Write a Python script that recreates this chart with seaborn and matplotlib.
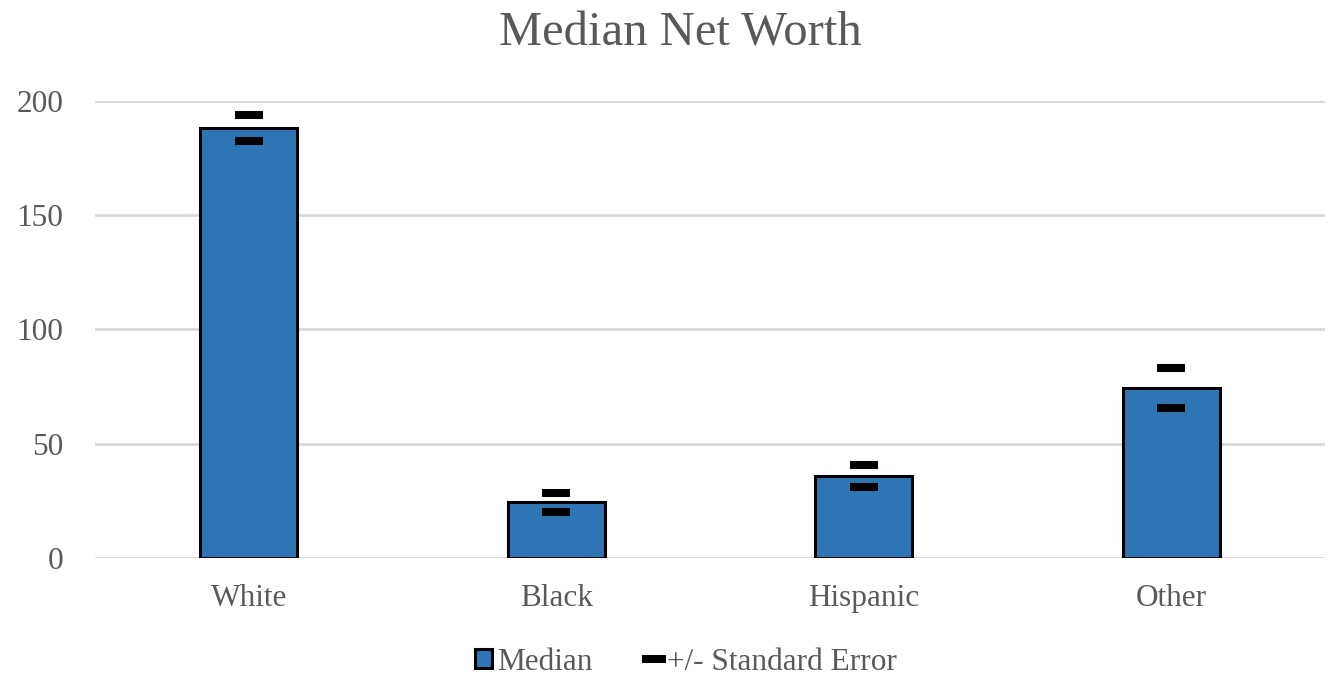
import numpy as np
import pandas as pd
import matplotlib
matplotlib.use("Agg")
import matplotlib.pyplot as plt
import seaborn as sns
from matplotlib.patches import Patch
from matplotlib.lines import Line2D

groups = ["White", "Black", "Hispanic", "Other"]
median = [188.2, 24.5, 35.9, 74.4]
se_upper = [193.9, 28.4, 40.7, 83.2]
se_lower = [182.5, 20.1, 31.1, 65.6]

sns.set_theme(style="white")
plt.rcParams['font.family'] = ['Liberation Serif', 'DejaVu Serif']

df = pd.DataFrame({"group": groups, "median": median})

fig = plt.figure(figsize=(13.4, 6.79), dpi=100)
ax = fig.add_axes([0.0709, 0.1782, 0.9179, 0.6731])

ax.yaxis.grid(True, color="#D9D9D9", linewidth=2)
ax.set_axisbelow(True)

sns.barplot(data=df, x="group", y="median", color="#2E75B6", width=0.316,
            edgecolor="black", linewidth=2.2, saturation=1, ax=ax, zorder=2)

# +/- standard error dashes
xs = np.arange(len(groups))
ax.plot(xs, se_upper, linestyle="none", marker="_", markersize=19.5,
        markeredgewidth=5.8, color="black", zorder=3)
ax.plot(xs, se_lower, linestyle="none", marker="_", markersize=19.5,
        markeredgewidth=5.8, color="black", zorder=3)

ax.set_xlim(-0.5, len(groups) - 0.5)
ax.set_ylim(0, 200)
ax.set_yticks([0, 50, 100, 150, 200])
ax.set_xlabel("")
ax.set_ylabel("")
for s in ax.spines.values():
    s.set_visible(False)
ax.tick_params(axis="both", length=0, labelsize=22.5, labelcolor="#595959")
ax.tick_params(axis="x", pad=19)
ax.tick_params(axis="y", pad=23)

fig.suptitle("Median Net Worth", x=0.508, y=0.983, fontsize=35, color="#595959")

handles = [Patch(facecolor="#2E75B6", edgecolor="black", linewidth=2.2),
           Line2D([], [], linestyle="none", marker="_", markersize=17,
                  markeredgewidth=5.8, color="black")]
fig.legend(handles, ["Median", "+/- Standard Error"], loc="center",
           bbox_to_anchor=(0.512, 0.025), ncol=2, frameon=False,
           fontsize=22.5, labelcolor="#595959", handlelength=0.55,
           handleheight=0.6, handletextpad=0.15, columnspacing=1.7)

fig.savefig("out.png", dpi=100)
